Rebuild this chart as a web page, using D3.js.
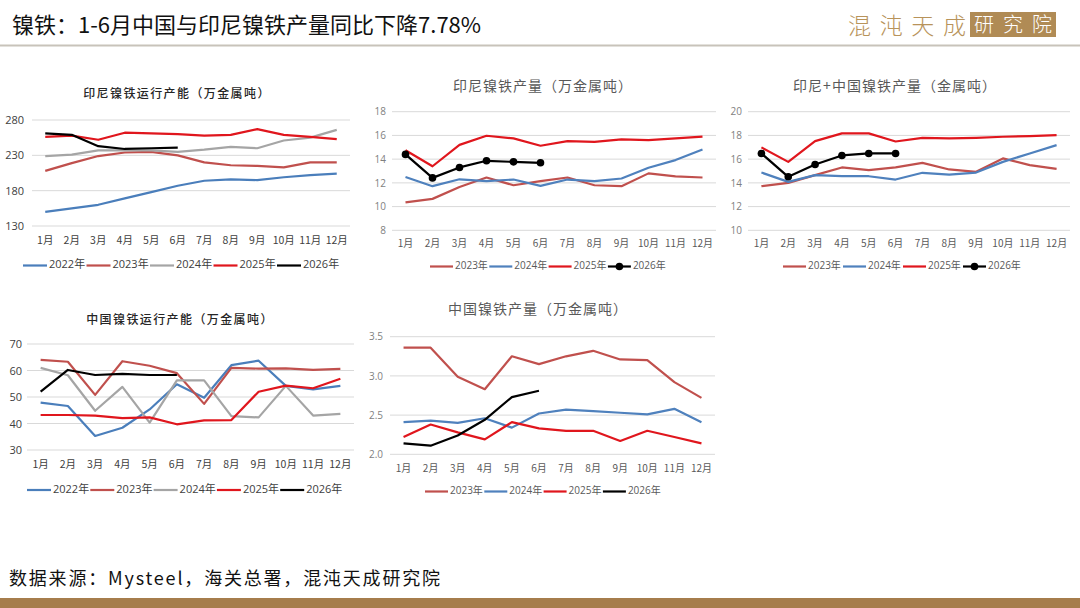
<!DOCTYPE html>
<html><head><meta charset="utf-8">
<script src="https://cdn.jsdelivr.net/npm/d3@7"></script>
<style>
html,body{margin:0;padding:0;background:#fff;}
svg{display:block;font-family:"Noto Sans CJK SC","Noto Sans",sans-serif;}
</style></head>
<body>
<script>
// ---------- data ----------
const months = ["1月","2月","3月","4月","5月","6月","7月","8月","9月","10月","11月","12月"];
const legendYears5 = ["2022年","2023年","2024年","2025年","2026年"];
const legendYears4 = ["2023年","2024年","2025年","2026年"];

// 印尼镍铁运行产能（万金属吨）
const idnCapTicks = [130,180,230,280];
const idnCap2022 = [150,155,160,169,178,187,194,196,195,199,202,204];
const idnCap2023 = [208,219,229,234,235,230,220,216,215,213,220,220];
const idnCap2024 = [229,231,237,237,237,235,238,242,240,251,255,266];
const idnCap2025 = [256,258,252,262,261,260,258,259,267,259,256,253];
const idnCap2026 = [261,259,243,239,240,241];

// 印尼镍铁产量（万金属吨）
const idnOutTicks = [8,10,12,14,16,18];
const idnOut2023 = [10.35,10.65,11.65,12.45,11.8,12.15,12.45,11.8,11.72,12.8,12.55,12.45];
const idnOut2024 = [12.5,11.72,12.3,12.15,12.28,11.75,12.28,12.15,12.37,13.27,13.92,14.82];
const idnOut2025 = [14.75,13.4,15.2,15.97,15.75,15.13,15.52,15.46,15.66,15.6,15.75,15.9];
const idnOut2026 = [14.4,12.42,13.3,13.86,13.77,13.69];

// 印尼+中国镍铁产量（金属吨）
const totOutTicks = [10,12,14,16,18,20];
const totOut2023 = [13.72,14.0,14.65,15.3,15.07,15.3,15.69,15.13,14.93,16.06,15.49,15.18];
const totOut2024 = [14.87,14.08,14.65,14.56,14.56,14.28,14.85,14.7,14.87,15.77,16.48,17.18];
const totOut2025 = [16.99,15.77,17.52,18.17,18.17,17.49,17.8,17.75,17.8,17.89,17.94,18.03];
const totOut2026 = [16.48,14.51,15.55,16.31,16.48,16.48];

// 中国镍铁运行产能（万金属吨）
const chnCapTicks = [30,40,50,60,70];
const chnCap2022 = [47.9,46.6,35.3,38.4,45.3,54.8,49.7,62,63.7,54.2,52.9,54.2];
const chnCap2023 = [64,63.3,50.8,63.5,61.8,59,47.4,61,60.7,60.8,60.2,60.6];
const chnCap2024 = [61,58.2,44.8,53.8,40.3,56.3,56.3,42.8,42.3,54.2,43,43.6];
const chnCap2025 = [43.2,43.2,43,42,42.3,39.7,41.2,41.3,52,54.3,53.3,56.9];
const chnCap2026 = [52,60.2,58.3,58.7,58.3,58.3];

// 中国镍铁产量（万金属吨）
const chnOutTicks = [2.0,2.5,3.0,3.5];
const chnOut2023 = [3.36,3.36,2.99,2.83,3.25,3.15,3.25,3.32,3.21,3.2,2.92,2.72];
const chnOut2024 = [2.41,2.43,2.40,2.46,2.34,2.52,2.57,2.55,2.53,2.51,2.58,2.41];
const chnOut2025 = [2.22,2.38,2.28,2.19,2.41,2.33,2.30,2.30,2.17,2.30,2.22,2.14];
const chnOut2026 = [2.14,2.11,2.24,2.44,2.73,2.81];

// ---------- styles ----------
const C2022 = "#4a7ebb", C2023 = "#c0504d", C2024g = "#a5a5a5", C2024b = "#4f81bd", C2025 = "#e0161d", C2026 = "#000000";

const svg = d3.select("body").append("svg").attr("width",1080).attr("height",608);

// header
svg.append("text").attr("x",12).attr("y",33).attr("font-size",22).attr("fill","#111")
  .text("镍铁：1-6月中国与印尼镍铁产量同比下降7.78%");
svg.append("line").attr("x1",0).attr("x2",1080).attr("y1",45.5).attr("y2",45.5)
  .attr("stroke","#c8c3ba").attr("stroke-width",2);
svg.append("text").attr("x",848).attr("y",34).attr("font-size",23).attr("font-weight",300)
  .attr("fill","#b8935a").attr("textLength",118).text("混沌天成");
svg.append("rect").attr("x",970).attr("y",12).attr("width",86).attr("height",25).attr("fill","#b08b55");
svg.append("text").attr("x",1013).attr("y",32).attr("text-anchor","middle").attr("font-size",20)
  .attr("font-weight",300).attr("fill","#fff").attr("textLength",78).text("研究院");

// footer
svg.append("text").attr("x",9).attr("y",585).attr("font-size",18).attr("fill","#111")
  .attr("textLength",431)
  .text("数据来源：Mysteel，海关总署，混沌天成研究院");
svg.append("rect").attr("x",0).attr("y",598).attr("width",1080).attr("height",10).attr("fill","#a67d4c");

function drawChart(cfg){
  const g = svg.append("g");
  const x = d3.scaleBand().domain(months).range([cfg.x0,cfg.x1]);
  const cx = m => x(m) + x.bandwidth()/2;
  const y = d3.scaleLinear().domain(cfg.domain).range([cfg.yb,cfg.yt]);

  g.append("text").attr("x",cfg.tx).attr("y",cfg.ty).attr("text-anchor","middle")
    .attr("dominant-baseline","middle").attr("font-size",cfg.tsize).attr("fill",cfg.tcolor)
    .attr("letter-spacing",cfg.tls||0)
    .attr("font-weight",cfg.tweight||400).text(cfg.title);

  // grid
  g.selectAll("line.grid").data(cfg.ticks).join("line").attr("class","grid")
    .attr("x1",cfg.x0).attr("x2",cfg.x1).attr("y1",d=>y(d)).attr("y2",d=>y(d))
    .attr("stroke","#d9d9d9").attr("stroke-width",1);

  // y axis labels
  const yAxis = d3.axisLeft(y).tickValues(cfg.ticks).tickFormat(cfg.fmt).tickSize(0).tickPadding(cfg.ypad);
  const ya = g.append("g").attr("transform",`translate(${cfg.x0},0)`).call(yAxis);
  ya.select(".domain").remove();
  ya.selectAll("text").attr("font-size",cfg.ysize).attr("fill",cfg.ycolor)
    .attr("font-family","'Open Sans','Noto Sans',sans-serif");

  // x axis labels
  const xAxis = d3.axisBottom(x).tickSize(0).tickPadding(0);
  const xa = g.append("g").attr("transform",`translate(0,${cfg.xly})`).call(xAxis);
  xa.select(".domain").remove();
  xa.selectAll("text").attr("font-size",cfg.xsize).attr("fill",cfg.xcolor).attr("dy","0.35em")
    .attr("font-family","'Noto Sans CJK SC',sans-serif");

  const line = d3.line().x((d,i)=>cx(months[i])).y(d=>y(d));
  cfg.series.forEach(s=>{
    g.append("path").datum(s.values).attr("d",line).attr("fill","none")
      .attr("stroke",s.color).attr("stroke-width",s.w||2.2).attr("stroke-linejoin","round");
    if(s.dots){
      g.selectAll(null).data(s.values).join("circle").attr("cx",(d,i)=>cx(months[i])).attr("cy",d=>y(d))
        .attr("r",3.8).attr("fill",s.color);
    }
  });

  // legend
  cfg.series.forEach((s,i)=>{
    const lx = cfg.lx0 + i*cfg.lstep;
    g.append("line").attr("x1",lx).attr("x2",lx+cfg.llen).attr("y1",cfg.ly).attr("y2",cfg.ly)
      .attr("stroke",s.color).attr("stroke-width",s.w||2.2);
    if(s.dots) g.append("circle").attr("cx",lx+cfg.llen/2).attr("cy",cfg.ly).attr("r",3.8).attr("fill",s.color);
    g.append("text").attr("x",lx+cfg.llen+2).attr("y",cfg.ly).attr("dominant-baseline","middle")
      .attr("font-size",cfg.lsize).attr("fill",cfg.lcolor)
      .attr("font-family","'Open Sans','Noto Sans CJK SC',sans-serif").text(s.name);
  });
}

drawChart({
  title:"印尼镍铁运行产能（万金属吨）", tx:177, ty:95, tsize:12, tcolor:"#262626", tweight:500, tls:1.4,
  x0:32, x1:350, yt:120, yb:226, domain:[130,280], ticks:idnCapTicks, fmt:d3.format("d"),
  ypad:8, ysize:11, ycolor:"#404040", xly:240, xsize:10.5, xcolor:"#404040",
  lx0:23, lstep:63.5, llen:24, ly:265.5, lsize:11, lcolor:"#404040",
  series:[
    {name:legendYears5[0], values:idnCap2022, color:C2022},
    {name:legendYears5[1], values:idnCap2023, color:C2023},
    {name:legendYears5[2], values:idnCap2024, color:C2024g},
    {name:legendYears5[3], values:idnCap2025, color:C2025},
    {name:legendYears5[4], values:idnCap2026, color:C2026}
  ]
});

drawChart({
  title:"印尼镍铁产量（万金属吨）", tx:543, ty:87, tsize:14, tcolor:"#595959", tls:1,
  x0:392, x1:716, yt:111.7, yb:230.3, domain:[8,18], ticks:idnOutTicks, fmt:d3.format("d"),
  ypad:6, ysize:10, ycolor:"#7f7f7f", xly:243, xsize:10, xcolor:"#595959",
  lx0:430, lstep:59.3, llen:23, ly:266.5, lsize:10, lcolor:"#595959",
  series:[
    {name:legendYears4[0], values:idnOut2023, color:C2023},
    {name:legendYears4[1], values:idnOut2024, color:C2024b},
    {name:legendYears4[2], values:idnOut2025, color:C2025},
    {name:legendYears4[3], values:idnOut2026, color:C2026, dots:true}
  ]
});

drawChart({
  title:"印尼+中国镍铁产量（金属吨）", tx:895, ty:87, tsize:14, tcolor:"#595959", tls:1,
  x0:748, x1:1070, yt:111.7, yb:230.3, domain:[10,20], ticks:totOutTicks, fmt:d3.format("d"),
  ypad:6, ysize:10, ycolor:"#7f7f7f", xly:243, xsize:10, xcolor:"#595959",
  lx0:783, lstep:60, llen:23, ly:266.5, lsize:10, lcolor:"#595959",
  series:[
    {name:legendYears4[0], values:totOut2023, color:C2023},
    {name:legendYears4[1], values:totOut2024, color:C2024b},
    {name:legendYears4[2], values:totOut2025, color:C2025},
    {name:legendYears4[3], values:totOut2026, color:C2026, dots:true}
  ]
});

drawChart({
  title:"中国镍铁运行产能（万金属吨）", tx:180, ty:321, tsize:12, tcolor:"#262626", tweight:500, tls:1.4,
  x0:27, x1:354, yt:344, yb:450, domain:[30,70], ticks:chnCapTicks, fmt:d3.format("d"),
  ypad:5, ysize:11, ycolor:"#404040", xly:464.5, xsize:10.5, xcolor:"#404040",
  lx0:27, lstep:63.3, llen:24, ly:490, lsize:11, lcolor:"#404040",
  series:[
    {name:legendYears5[0], values:chnCap2022, color:C2022},
    {name:legendYears5[1], values:chnCap2023, color:C2023},
    {name:legendYears5[2], values:chnCap2024, color:C2024g},
    {name:legendYears5[3], values:chnCap2025, color:C2025},
    {name:legendYears5[4], values:chnCap2026, color:C2026}
  ]
});

drawChart({
  title:"中国镍铁产量（万金属吨）", tx:538, ty:310, tsize:14, tcolor:"#595959", tls:1,
  x0:390, x1:715, yt:336.7, yb:454.3, domain:[2.0,3.5], ticks:chnOutTicks, fmt:d3.format(".1f"),
  ypad:7, ysize:10, ycolor:"#7f7f7f", xly:468, xsize:10, xcolor:"#595959",
  lx0:425, lstep:59.3, llen:23, ly:491.5, lsize:10, lcolor:"#595959",
  series:[
    {name:legendYears4[0], values:chnOut2023, color:C2023},
    {name:legendYears4[1], values:chnOut2024, color:C2024b},
    {name:legendYears4[2], values:chnOut2025, color:C2025},
    {name:legendYears4[3], values:chnOut2026, color:C2026}
  ]
});
</script>
</body></html>
